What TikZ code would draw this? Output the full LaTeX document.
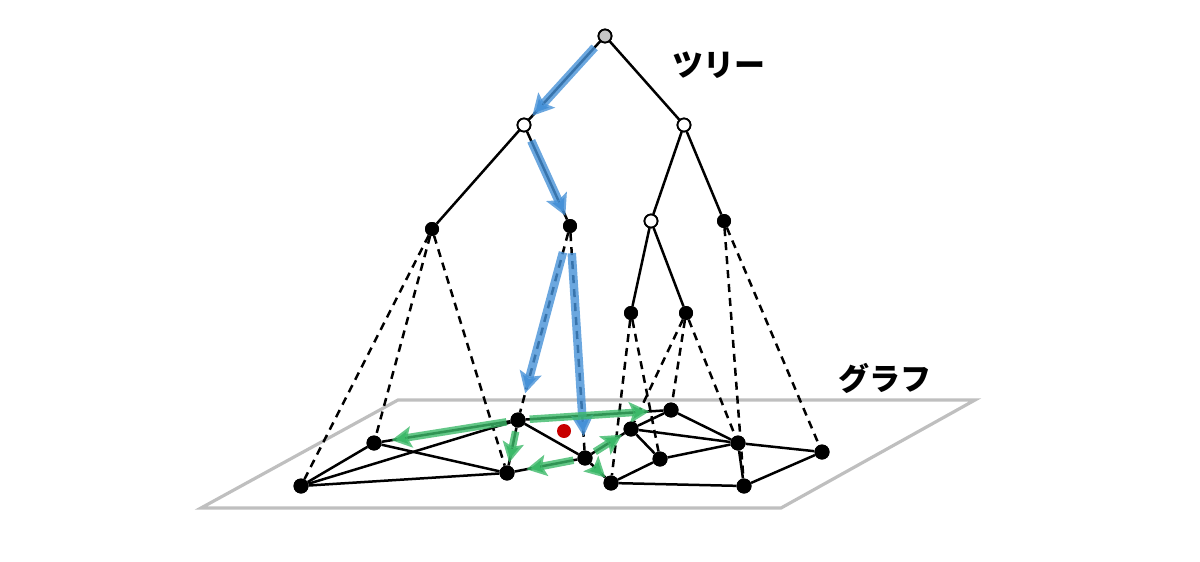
\documentclass[tikz,border=0pt]{standalone}
\usepackage{fontspec}
\newfontfamily\jp{Noto Sans CJK JP}
\usetikzlibrary{arrows.meta}
\definecolor{garr}{RGB}{60,185,105}
\definecolor{barr}{RGB}{70,145,215}
\definecolor{reddot}{RGB}{200,0,0}
\begin{document}
\begin{tikzpicture}[x=1pt,y=-1pt,
  dot/.style={circle,fill=black,inner sep=0pt,minimum size=15pt},
  tdot/.style={circle,fill=black,inner sep=0pt,minimum size=14pt},
  wnode/.style={circle,draw=black,fill=white,line width=1.8pt,inner sep=0pt,minimum size=13pt},
  rnode/.style={wnode,fill=gray!45},
  tedge/.style={line width=2.5pt,black},
  dashline/.style={line width=2.5pt,black,dash pattern=on 8pt off 6pt},
  plane/.style={line width=3.2pt,gray!50},
  garrow/.style={line width=7.5pt,draw=garr,draw opacity=0.8,-{Stealth[length=20pt,width=21pt,inset=4pt]}},
  barrow/.style={line width=8.5pt,draw=barr,draw opacity=0.8,-{Stealth[length=21pt,width=22pt,inset=4pt]}},
  lab/.style={font=\jp\bfseries\fontsize{31}{31}\selectfont,inner sep=0pt}
]
\useasboundingbox (0,0) rectangle (1200,562);
% plane
\draw[plane] (398,400) -- (975,400) -- (781,508) -- (201,508) -- cycle;
% tree nodes
\node[rnode] (R) at (605,36) {};
\node[wnode] (A) at (524,125) {};
\node[wnode] (B) at (684,125) {};
\node[tdot] (A1) at (432,229) {};
\node[tdot] (A2) at (570,226) {};
\node[wnode] (B1) at (651,221) {};
\node[tdot] (B2) at (724,221) {};
\node[tdot] (C1) at (631,313) {};
\node[tdot] (C2) at (686,313) {};
% graph nodes
\node[dot] (g1) at (301,486) {};
\node[dot] (g2) at (374,443) {};
\node[dot] (g3) at (518,420) {};
\node[dot] (g4) at (507,473) {};
\node[dot] (g5) at (585,458) {};
\node[dot] (g6) at (631,429) {};
\node[dot] (g7) at (671,410) {};
\node[dot] (g8) at (660,459) {};
\node[dot] (g9) at (611,483) {};
\node[dot] (g10) at (738,443) {};
\node[dot] (g11) at (744,486) {};
\node[dot] (g12) at (822,452) {};
% graph edges
\foreach \a/\b in {g1/g2,g1/g3,g1/g4,g2/g4,g2/g3,g3/g4,g3/g5,g4/g5,g5/g6,g5/g9,g3/g7,g6/g7,g6/g8,g6/g10,g7/g10,g8/g10,g8/g9,g9/g11,g10/g11,g10/g12,g11/g12}
  \draw[tedge] (\a) -- (\b);
% dashed projections
\foreach \a/\b in {A1/g1,A1/g2,A1/g4,A2/g3,A2/g5,C1/g9,C1/g8,C2/g6,C2/g7,C2/g10,B2/g11,B2/g12}
  \draw[dashline] (\a) -- (\b);
% tree edges
\foreach \a/\b in {R/A,R/B,A/A1,A/A2,B/B1,B/B2,B1/C1,B1/C2}
  \draw[tedge] (\a) -- (\b);
% blue arrows
\draw[barrow,shorten <=8pt,shorten >=5pt] (R) -- (A);
\draw[barrow,shorten <=10pt,shorten >=4pt] (A) -- (A2);
\draw[barrow,shorten <=20pt,shorten >=20pt] (A2) -- (g3);
\draw[barrow,shorten <=20pt,shorten >=14pt] (A2) -- (g5);
% green arrows
\draw[garrow,shorten <=4pt,shorten >=10pt] (g3) -- (g2);
\draw[garrow,shorten <=4pt,shorten >=14pt] (g3) -- (g7);
\draw[garrow,shorten <=4pt,shorten >=3pt] (g3) -- (g4);
\draw[garrow,shorten <=4pt,shorten >=12pt] (g5) -- (g4);
\draw[garrow,shorten <=4pt,shorten >=3pt] (g5) -- (g6);
\draw[garrow,shorten <=4pt,shorten >=0pt] (g5) -- (g9);
% red dot
\node[circle,fill=reddot,inner sep=0pt,minimum size=14pt] (red) at (564,431) {};
% redraw nodes on top
\foreach \n in {g1,g2,g3,g4,g5,g6,g7,g8,g9,g10,g11,g12}
  \fill (\n) circle (7.5pt);
\foreach \n in {A1,A2,B2,C1,C2}
  \fill (\n) circle (7pt);
\foreach \n in {A,B,B1}
  \draw[line width=1.8pt,fill=white] (\n) circle (6.5pt);
\draw[line width=1.8pt,fill=gray!45] (R) circle (6.5pt);
% labels
\node[lab] (t1) at (719,65) {ツリー};
\node[lab] (t2) at (885,378) {グラフ};
\end{tikzpicture}
\end{document}
